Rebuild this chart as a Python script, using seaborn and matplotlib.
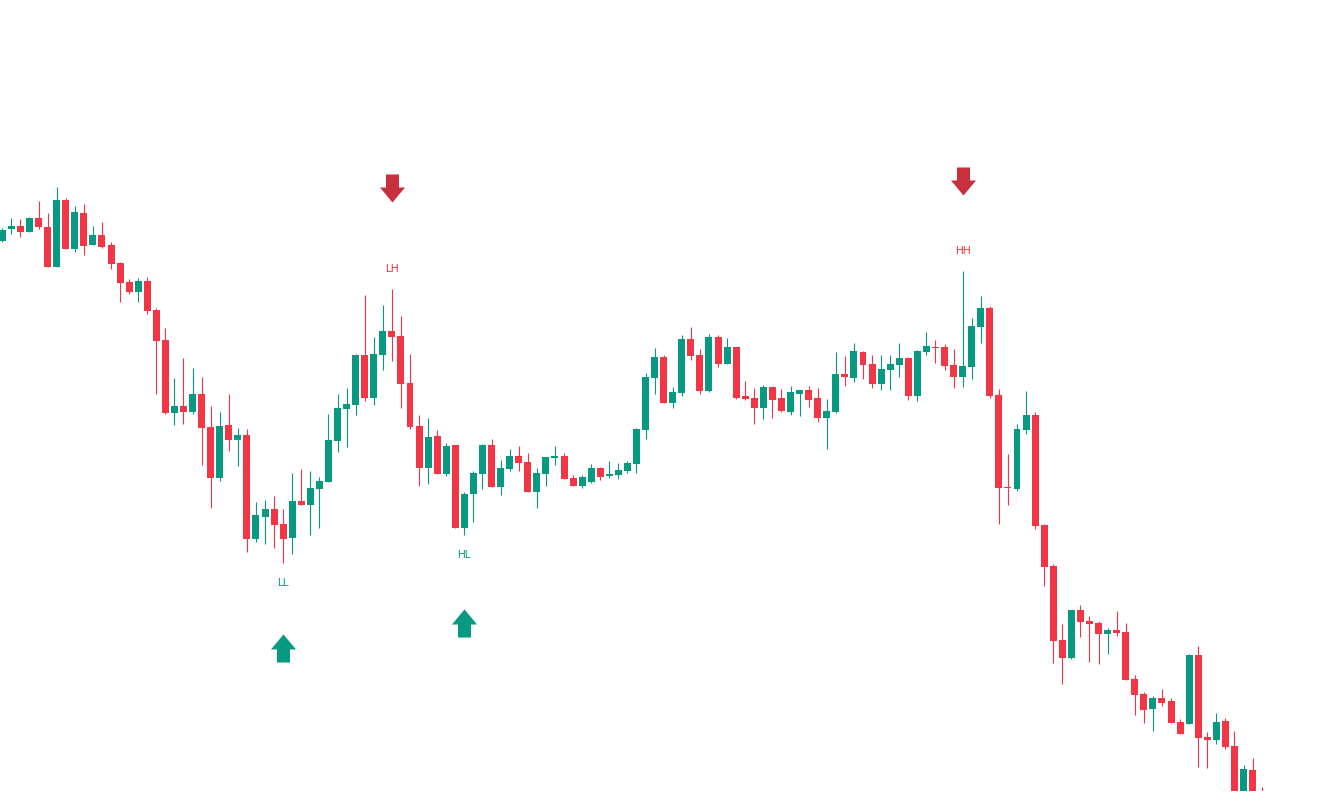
import matplotlib
matplotlib.use("Agg")
import matplotlib.pyplot as plt
from matplotlib.path import Path
import numpy as np
import seaborn as sns

# OHLC values (price units)
opens = [559, 571, 574, 568, 582, 573, 533, 600, 551, 587,
         555, 565, 555, 537, 518, 508, 519, 490, 460, 387,
         394, 388, 406, 373, 322, 375, 360, 365, 261, 283,
         291, 276, 262, 299, 295, 311, 318, 359, 391, 395,
         445, 402, 445, 469, 464, 417, 374, 332, 364, 326,
         355, 272, 306, 326, 355, 313, 331, 344, 338, 308,
         326, 342, 344, 322, 314, 318, 332, 324, 325, 329,
         336, 370, 422, 443, 397, 407, 461, 445, 409, 463,
         436, 453, 404, 402, 392, 413, 402, 388, 406, 410,
         402, 382, 388, 426, 422, 448, 436, 416, 430, 435,
         442, 404, 448, 453, 453, 435, 423, 433, 473, 492,
         405, 313, 311, 370, 385, 275, 234, 160, 142, 190,
         179, 177, 166, 170, 168, 121, 106, 91, 102, 99,
         78, 76, 145, 63, 60, 79, 54, -8, 30, 2]
highs = [572, 582, 581, 583, 599, 587, 613, 602, 594, 596,
         574, 578, 558, 538, 521, 522, 523, 492, 472, 422,
         442, 432, 423, 394, 388, 406, 372, 371, 298, 300,
         304, 291, 327, 331, 329, 323, 386, 406, 412, 446,
         505, 463, 495, 511, 484, 446, 385, 382, 370, 357,
         355, 308, 329, 356, 361, 340, 351, 354, 347, 332,
         343, 354, 347, 325, 325, 336, 333, 339, 337, 339,
         372, 427, 452, 445, 413, 465, 473, 451, 466, 465,
         462, 453, 419, 412, 415, 413, 411, 414, 410, 414,
         412, 401, 448, 444, 457, 449, 445, 445, 445, 457,
         443, 450, 468, 460, 456, 451, 529, 482, 504, 494,
         411, 346, 376, 409, 388, 276, 236, 176, 190, 195,
         184, 179, 172, 189, 177, 125, 108, 104, 111, 102,
         81, 146, 154, 68, 87, 82, 69, 35, 42, 13]
lows = [558, 566, 563, 568, 571, 533, 533, 551, 548, 545,
        555, 552, 531, 498, 506, 498, 486, 406, 386, 375,
        376, 386, 335, 292, 319, 349, 334, 248, 258, 256,
        252, 237, 246, 295, 265, 272, 318, 348, 353, 385,
        399, 395, 430, 439, 392, 371, 314, 316, 326, 324,
        272, 265, 278, 311, 313, 305, 329, 329, 308, 292,
        314, 335, 321, 314, 312, 317, 320, 322, 321, 327,
        327, 361, 406, 397, 392, 404, 440, 406, 408, 433,
        436, 401, 400, 376, 381, 382, 388, 385, 384, 393,
        378, 351, 387, 414, 418, 421, 412, 410, 410, 423,
        400, 399, 445, 437, 430, 412, 413, 421, 457, 402,
        276, 295, 309, 366, 271, 214, 137, 116, 141, 163,
        138, 136, 146, 164, 120, 85, 77, 69, 94, 77,
        66, 76, 33, 32, 56, 51, -10, -12, -10, -14]
closes = [570, 574, 568, 582, 573, 533, 600, 551, 588, 554,
          565, 553, 536, 517, 508, 519, 489, 459, 387, 394,
          388, 406, 372, 322, 374, 360, 365, 261, 285, 291,
          275, 261, 299, 295, 312, 319, 360, 392, 396, 445,
          402, 446, 469, 463, 416, 373, 332, 363, 326, 354,
          272, 306, 327, 355, 313, 332, 344, 337, 308, 327,
          343, 344, 321, 314, 323, 332, 323, 326, 330, 337,
          371, 423, 443, 397, 408, 461, 444, 409, 463, 436,
          453, 402, 401, 392, 413, 400, 389, 408, 410, 400,
          382, 389, 426, 423, 449, 435, 416, 431, 436, 442,
          404, 449, 454, 452, 434, 423, 434, 474, 492, 404,
          312, 312, 371, 385, 274, 233, 159, 142, 190, 178,
          176, 166, 170, 167, 120, 105, 90, 102, 97, 77,
          66, 145, 62, 60, 78, 53, -5, 31, -6, -8]

# swing points
pivot_idx = [31, 43, 51, 106]
pivot_labels = ['LL', 'LH', 'HL', 'HH']
pivot_kind = ['low', 'high', 'low', 'high']
arrow_gap = [85, 101, 88, 90]

UP = '#089981'
DOWN = '#F23645'
ARROW_DOWN = '#C8303D'

sns.set_theme(style='white')
plt.rcParams['font.family'] = ['Roboto', 'DejaVu Sans']

fig = plt.figure(figsize=(13.39, 7.99), dpi=100)
ax = fig.add_axes([0, 8 / 799, 1, 791 / 799])

o = np.array(opens)
h = np.array(highs)
l = np.array(lows)
c = np.array(closes)
x = np.arange(len(o))
colors = np.where(c >= o, UP, DOWN)

# wicks then bodies
ax.vlines(x, l, h, colors=colors, linewidth=0.8)
body = np.maximum(np.abs(c - o), 1.5)
ax.bar(x, body, bottom=np.minimum(o, c), width=0.77, color=colors, linewidth=0)

# arrow marker (28 px tall)
up_verts = [(0, 14), (12.5, -1), (6.5, -1), (6.5, -14), (-6.5, -14), (-6.5, -1), (-12.5, -1), (0, 14)]
up_arrow = Path(up_verts)
down_arrow = Path([(vx, -vy) for vx, vy in up_verts])

for i, lab, kind, gap in zip(pivot_idx, pivot_labels, pivot_kind, arrow_gap):
    if kind == 'high':
        y0 = h[i]
        ax.text(i, y0 + 20, lab, color=DOWN, fontsize=8, ha='center', va='center')
        ax.plot(i, y0 + gap, marker=down_arrow, markersize=20.2, color=ARROW_DOWN,
                markeredgewidth=0, linestyle='none')
    else:
        y0 = l[i]
        ax.text(i, y0 - 20, lab, color=UP, fontsize=8, ha='center', va='center')
        ax.plot(i, y0 - gap, marker=up_arrow, markersize=20.2, color=UP,
                markeredgewidth=0, linestyle='none')

ax.set_xlim(-0.254, 147.54)
ax.set_ylim(9, 800)
ax.set_xticks([])
ax.set_yticks([])
sns.despine(ax=ax, left=True, bottom=True)

plt.savefig('out.png', dpi=100)
